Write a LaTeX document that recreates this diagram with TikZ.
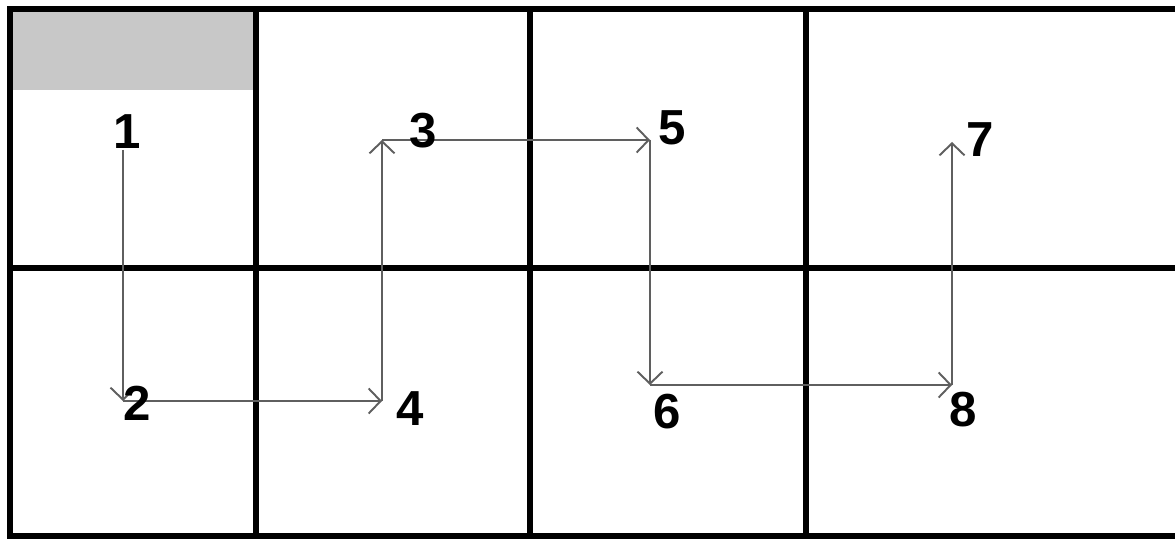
\documentclass[tikz,border=0pt]{standalone}
\usepackage{fontspec}
\setmainfont{Liberation Sans}
\usetikzlibrary{arrows.meta}
\definecolor{cellgray}{RGB}{200,200,200}
\definecolor{pathgray}{RGB}{95,95,95}
\tikzset{
	gridline/.style={line width=2.9pt, draw=black},
	num/.style={font=\fontsize{28}{30}\selectfont\bfseries, inner sep=0pt},
	route/.style={-{Straight Barb[length=2.4mm, width=5mm]}, line width=1.1pt, draw=pathgray},
}
\begin{document}
\begin{tikzpicture}[x=0.02cm, y=-0.02cm]
		\useasboundingbox (0,0) rectangle (1175,540);
		\fill[cellgray] (10,9) rectangle (256,90);
		% grid
		\draw[gridline] (1175,9) -- (10,9) -- (10,536) -- (1175,536);
		\draw[gridline] (10,268) -- (1175,268);
		\foreach \x in {256,530,806}
			\draw[gridline] (\x,9) -- (\x,536);
		% corners of the route
		\coordinate (p1) at (123,150);
		\coordinate (p2) at (123,401);
		\coordinate (p4) at (382,401);
		\coordinate (p3) at (382,140);
		\coordinate (p5) at (650,140);
		\coordinate (p6) at (650,385);
		\coordinate (p8) at (952,385);
		\coordinate (p7) at (952,142);
		\draw[route] (p1) -- (p2);
		\draw[route] (p2) -- (p4);
		\draw[route] (p4) -- (p3);
		\draw[route] (p3) -- (p5);
		\draw[route] (p5) -- (p6);
		\draw[route] (p6) -- (p8);
		\draw[route] (p8) -- (p7);
		% numbers
		\node[num] (n1) at (127,132) {1};
		\node[num] (n2) at (137,403) {2};
		\node[num] (n3) at (423,131) {3};
		\node[num] (n4) at (410,409) {4};
		\node[num] (n5) at (672,128) {5};
		\node[num] (n6) at (667,412) {6};
		\node[num] (n7) at (980,140) {7};
		\node[num] (n8) at (963,410) {8};
	\end{tikzpicture}
\end{document}
